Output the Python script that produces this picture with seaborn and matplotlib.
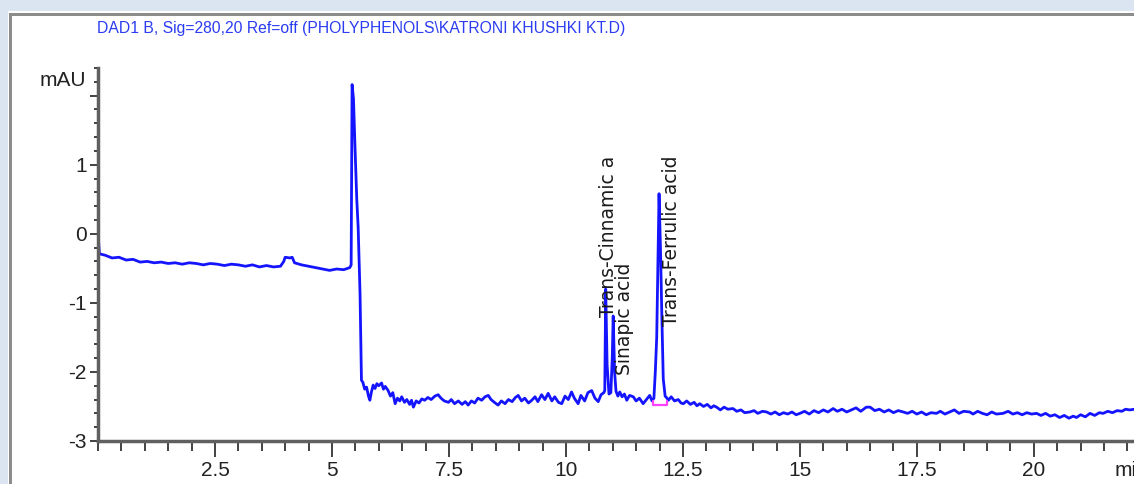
import matplotlib
matplotlib.use("Agg")
import matplotlib.pyplot as plt
import seaborn as sns
import pandas as pd
from matplotlib.ticker import MultipleLocator
from matplotlib.patches import Rectangle

# ==============================
# DATA
# ==============================

title_text = "DAD1 B, Sig=280,20 Ref=off (PHOLYPHENOLS\\KATRONI KHUSHKI KT.D)"

# retention time (min)
time_min = [
    0.00, 0.03, 0.15, 0.30, 0.45, 0.60, 0.75, 0.90, 1.05, 1.20, 1.35, 1.50, 1.65, 1.80, 1.95,
    2.10, 2.25, 2.40, 2.55, 2.70, 2.85, 3.00, 3.15, 3.30, 3.45, 3.60, 3.75, 3.90, 3.97, 4.00,
    4.10, 4.15, 4.20, 4.35, 4.50, 4.65, 4.80, 4.95, 5.10, 5.25, 5.38, 5.41, 5.43, 5.46, 5.49,
    5.53, 5.56, 5.60, 5.63, 5.66, 5.70, 5.74, 5.78, 5.81, 5.84, 5.88, 5.92, 5.96, 6.00, 6.06,
    6.10, 6.14, 6.20, 6.25, 6.30, 6.35, 6.40, 6.45, 6.49, 6.55, 6.60, 6.66, 6.70, 6.74, 6.80,
    6.86, 6.92, 6.98, 7.05, 7.12, 7.20, 7.27, 7.33, 7.40, 7.49, 7.55, 7.62, 7.70, 7.78, 7.85,
    7.91, 7.98, 8.05, 8.12, 8.20, 8.27, 8.34, 8.40, 8.47, 8.55, 8.62, 8.70, 8.77, 8.85, 8.92,
    8.98, 9.05, 9.12, 9.20, 9.27, 9.34, 9.40, 9.48, 9.55, 9.62, 9.70, 9.76, 9.84, 9.91, 9.98,
    10.05, 10.12, 10.18, 10.26, 10.32, 10.40, 10.47, 10.55, 10.62, 10.69, 10.75, 10.81, 10.83, 10.85, 10.88,
    10.92, 10.96, 10.99, 11.01, 11.04, 11.07, 11.11, 11.15, 11.20, 11.25, 11.30, 11.36, 11.44, 11.50, 11.57,
    11.65, 11.72, 11.79, 11.84, 11.88, 11.91, 11.94, 11.97, 11.99, 12.02, 12.05, 12.08, 12.12, 12.16, 12.19,
    12.25, 12.32, 12.40, 12.46, 12.51, 12.58, 12.66, 12.74, 12.80, 12.86, 12.94, 13.02, 13.10, 13.16, 13.22,
    13.30, 13.38, 13.46, 13.57, 13.65, 13.74, 13.82, 13.93, 14.02, 14.10, 14.20, 14.29, 14.38, 14.47, 14.56,
    14.65, 14.74, 14.83, 14.92, 15.00, 15.10, 15.20, 15.30, 15.40, 15.50, 15.60, 15.71, 15.80, 15.90, 16.00,
    16.10, 16.20, 16.30, 16.42, 16.50, 16.60, 16.70, 16.80, 16.90, 17.00, 17.10, 17.21, 17.30, 17.40, 17.50,
    17.60, 17.70, 17.80, 17.92, 18.00, 18.10, 18.20, 18.30, 18.40, 18.50, 18.63, 18.70, 18.80, 18.90, 19.00,
    19.10, 19.20, 19.34, 19.45, 19.55, 19.65, 19.75, 19.85, 19.95, 20.06, 20.15, 20.25, 20.35, 20.45, 20.55,
    20.65, 20.75, 20.84, 20.91, 21.00, 21.10, 21.20, 21.30, 21.40, 21.48, 21.58, 21.68, 21.78, 21.88, 21.96,
    22.05, 22.15,
]

# detector signal (mAU)
signal_mau = [
    0.02, -0.29, -0.31, -0.35, -0.34, -0.38, -0.37, -0.41, -0.40, -0.42, -0.41, -0.43, -0.42, -0.44, -0.42,
    -0.43, -0.45, -0.43, -0.44, -0.46, -0.44, -0.45, -0.47, -0.45, -0.48, -0.46, -0.48, -0.47, -0.40, -0.34,
    -0.35, -0.34, -0.42, -0.45, -0.47, -0.49, -0.51, -0.53, -0.51, -0.52, -0.49, -0.45, 2.16, 1.95, 1.30,
    0.50, 0.09, -0.87, -2.12, -2.15, -2.25, -2.22, -2.35, -2.41, -2.30, -2.19, -2.24, -2.17, -2.20, -2.16,
    -2.25, -2.21, -2.27, -2.35, -2.30, -2.46, -2.38, -2.42, -2.36, -2.44, -2.40, -2.47, -2.41, -2.51, -2.42,
    -2.45, -2.39, -2.41, -2.37, -2.40, -2.35, -2.33, -2.38, -2.42, -2.44, -2.40, -2.46, -2.42, -2.47, -2.43,
    -2.48, -2.42, -2.45, -2.38, -2.41, -2.36, -2.34, -2.40, -2.44, -2.48, -2.42, -2.46, -2.40, -2.43, -2.37,
    -2.34, -2.42, -2.38, -2.45, -2.41, -2.36, -2.43, -2.33, -2.40, -2.31, -2.42, -2.36, -2.44, -2.46, -2.35,
    -2.40, -2.29, -2.38, -2.46, -2.34, -2.42, -2.30, -2.27, -2.38, -2.43, -2.33, -2.30, -2.27, -0.80, -1.90,
    -2.32, -2.30, -1.80, -1.19, -2.00, -2.28, -2.35, -2.29, -2.36, -2.32, -2.41, -2.34, -2.36, -2.42, -2.38,
    -2.46, -2.40, -2.34, -2.42, -2.38, -2.00, -1.50, -0.30, 0.58, -0.20, -1.20, -2.10, -2.35, -2.38, -2.41,
    -2.36, -2.42, -2.40, -2.45, -2.46, -2.42, -2.47, -2.44, -2.49, -2.46, -2.50, -2.47, -2.52, -2.49, -2.51,
    -2.55, -2.51, -2.54, -2.53, -2.57, -2.55, -2.59, -2.58, -2.56, -2.60, -2.57, -2.58, -2.61, -2.58, -2.62,
    -2.59, -2.61, -2.58, -2.62, -2.60, -2.57, -2.61, -2.56, -2.59, -2.55, -2.58, -2.53, -2.57, -2.54, -2.58,
    -2.55, -2.52, -2.57, -2.51, -2.51, -2.56, -2.54, -2.58, -2.55, -2.59, -2.56, -2.58, -2.60, -2.57, -2.61,
    -2.58, -2.62, -2.59, -2.60, -2.57, -2.61, -2.58, -2.55, -2.60, -2.57, -2.58, -2.61, -2.57, -2.60, -2.62,
    -2.58, -2.61, -2.60, -2.57, -2.61, -2.59, -2.62, -2.59, -2.61, -2.60, -2.63, -2.60, -2.64, -2.62, -2.66,
    -2.63, -2.67, -2.64, -2.66, -2.62, -2.65, -2.60, -2.63, -2.59, -2.60, -2.57, -2.59, -2.56, -2.57, -2.54,
    -2.55, -2.54,
]

# integration baseline under the ferulic acid peak
baseline_time = [11.86, 11.86, 12.16, 12.16]
baseline_mau = [-2.42, -2.48, -2.48, -2.42]

# peak labels
peak_names = ["Trans-Cinnamic a", "Sinapic acid", "Trans-Ferrulic acid"]
peak_label_time = [10.91, 11.25, 12.26]
peak_label_mau = [-1.21, -2.05, -1.33]

x_ticks = [2.5, 5, 7.5, 10, 12.5, 15, 17.5, 20]
x_tick_labels = ["2.5", "5", "7.5", "10", "12.5", "15", "17.5", "20"]
y_ticks = [-3, -2, -1, 0, 1, 2]
y_tick_labels = ["-3", "-2", "-1", "0", "1", ""]

trace_df = pd.DataFrame({"time": time_min, "mAU": signal_mau})

# ==============================
# FIGURE
# ==============================

sns.set_style("white")
plt.rcParams["font.family"] = ["Liberation Sans", "DejaVu Sans"]

W, H = 1134, 484
fig = plt.figure(figsize=(W / 100, H / 100), dpi=100)
fig.patch.set_facecolor("white")

# window frame of the screenshot
frame_blue = "#dbe5f1"
fig.patches.append(Rectangle((0, 1 - 11 / H), 1, 11 / H, transform=fig.transFigure,
                             facecolor=frame_blue, edgecolor="none", zorder=0))
fig.patches.append(Rectangle((0, 0), 8 / W, 1, transform=fig.transFigure,
                             facecolor=frame_blue, edgecolor="none", zorder=0))
fig.patches.append(Rectangle((9 / W, 1 - 16 / H), 1, 3 / H, transform=fig.transFigure,
                             facecolor="#8c8c8c", edgecolor="none", zorder=1))
fig.patches.append(Rectangle((9 / W, 0), 3 / W, 1 - 13 / H, transform=fig.transFigure,
                             facecolor="#8c8c8c", edgecolor="none", zorder=1))

ax = fig.add_axes([98 / W, 43 / H, (W - 98) / W, (441 - 68) / H])
ax.set_facecolor("none")

sns.lineplot(data=trace_df, x="time", y="mAU", ax=ax, color="#1414ff",
             linewidth=2.0, sort=False, estimator=None)
sns.lineplot(x=baseline_time, y=baseline_mau, ax=ax, color="#ff40ff",
             linewidth=1.6, sort=False, estimator=None)

ax.set_xlim(0, 22.14)
ax.set_ylim(-3, 2.4)

for s in ["top", "right"]:
    ax.spines[s].set_visible(False)
for s in ["left", "bottom"]:
    ax.spines[s].set_color("#606060")
    ax.spines[s].set_linewidth(2.5)

ax.set_xticks(x_ticks)
ax.set_xticklabels(x_tick_labels)
ax.xaxis.set_minor_locator(MultipleLocator(0.5))
ax.set_yticks(y_ticks)
ax.set_yticklabels(y_tick_labels)
ax.yaxis.set_minor_locator(MultipleLocator(0.2))

ax.tick_params(axis="x", which="major", direction="out", length=11.5, width=1.2,
               color="#222222", labelsize=15, labelcolor="#222222", pad=3, bottom=True)
ax.tick_params(axis="x", which="minor", direction="out", length=7, width=1.2,
               color="#222222", bottom=True)
ax.tick_params(axis="y", which="major", direction="out", length=6, width=1.2,
               color="#222222", labelsize=15, labelcolor="#222222", pad=2, left=True)
ax.tick_params(axis="y", which="minor", direction="out", length=3, width=1.2,
               color="#222222", left=True)

ax.set_xlabel("")
ax.set_ylabel("")

# axis unit labels
ax.text(-0.012, 2.22, "mAU", transform=ax.get_yaxis_transform(), ha="right", va="center",
        fontsize=15, color="#222222")
ax.text(21.72, -0.054, "min", transform=ax.get_xaxis_transform(), ha="left", va="top",
        fontsize=15, color="#222222", clip_on=False)

for name, t, v in zip(peak_names, peak_label_time, peak_label_mau):
    ax.text(t, v, name, rotation=90, ha="center", va="bottom", fontsize=13.5,
            family=["DejaVu Sans"], color="#1a1a1a")

fig.text(361 / W, 1 - 29 / H, title_text, ha="center", va="center", fontsize=11.3,
         color="#2b3cf2")

fig.savefig("out.png", dpi=100, facecolor=fig.get_facecolor())
